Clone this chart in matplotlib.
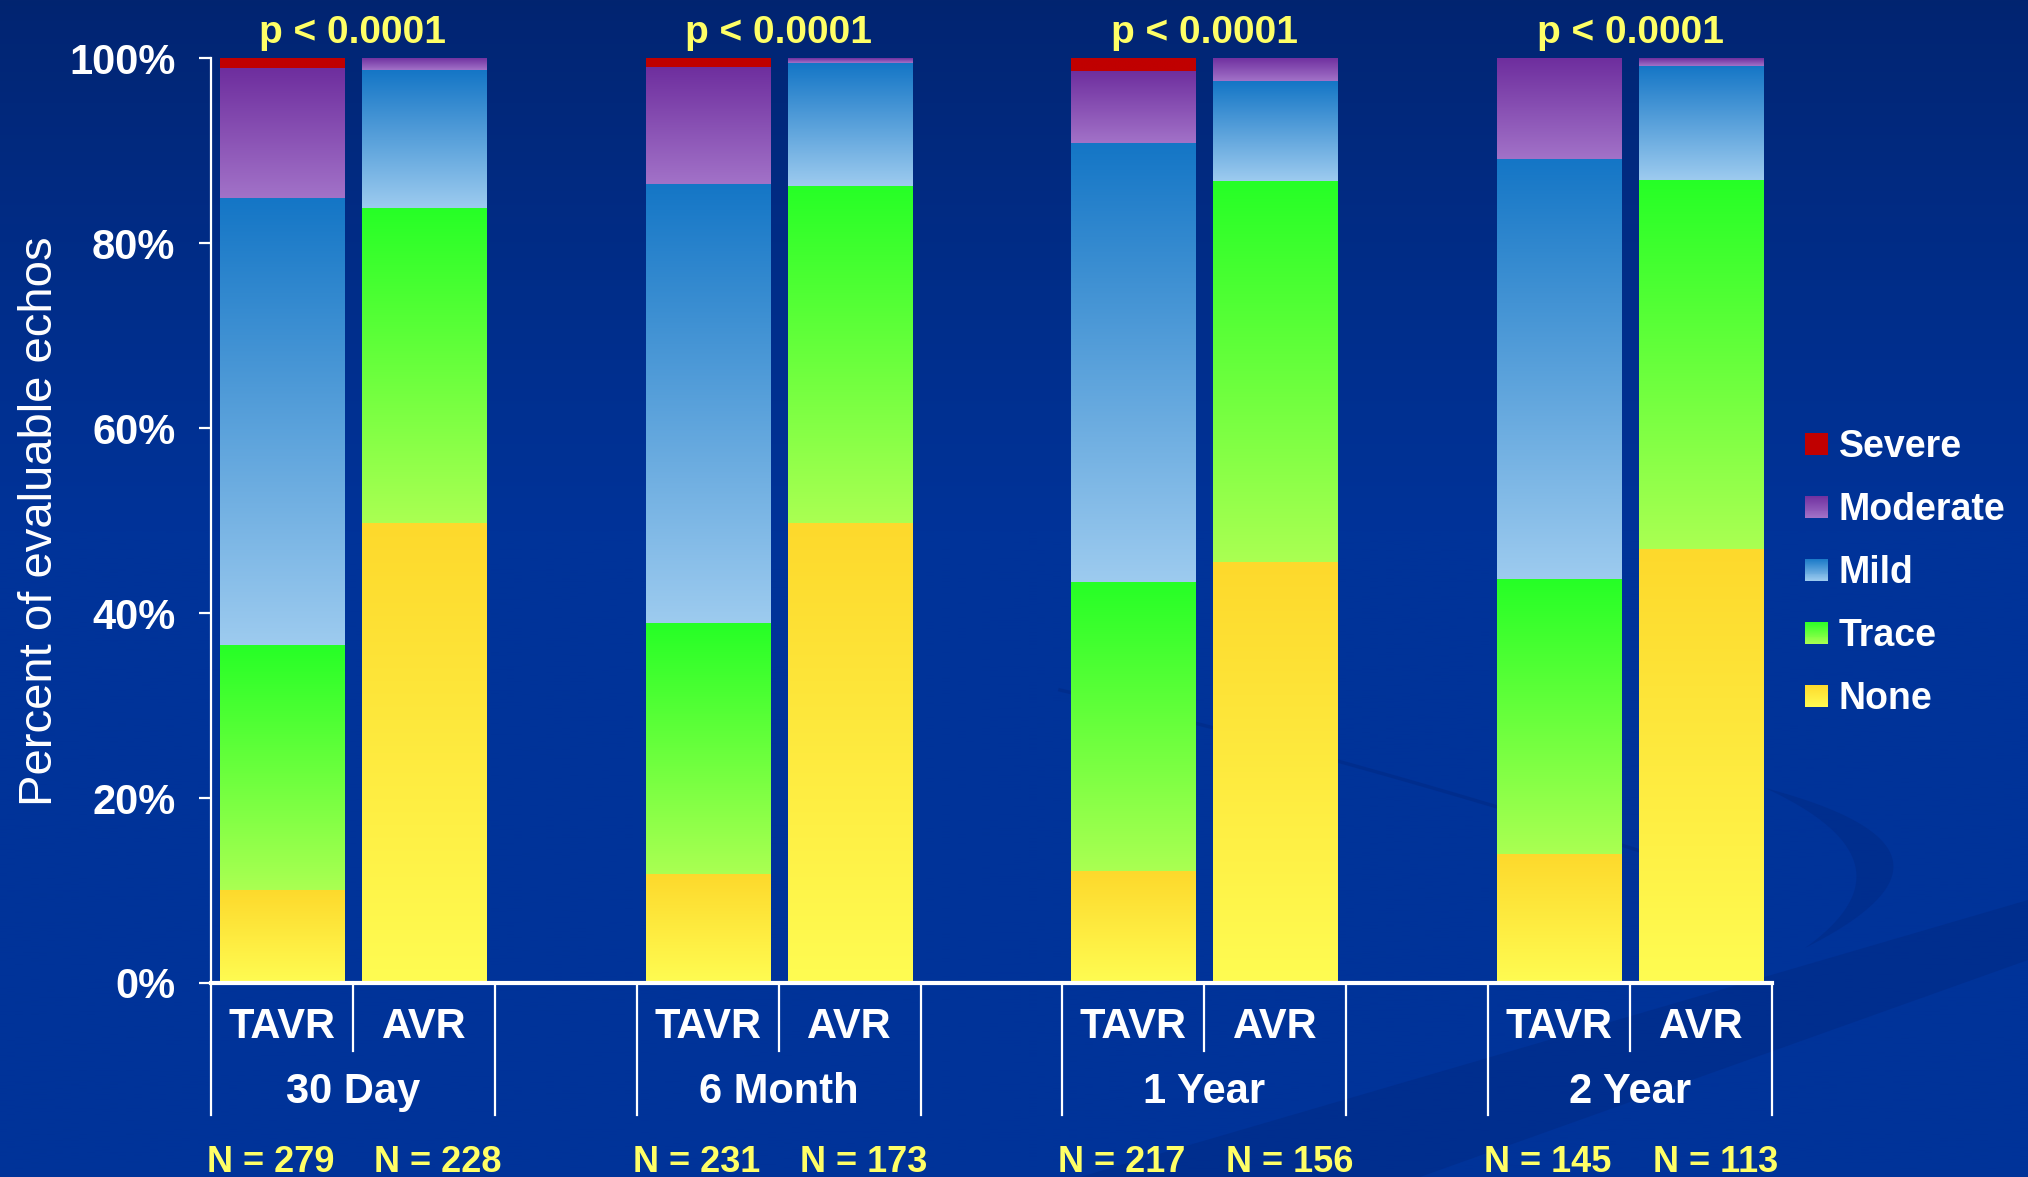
import numpy as np
import matplotlib
matplotlib.use("Agg")
import matplotlib.pyplot as plt
import matplotlib.transforms as mtransforms
from matplotlib.patches import Rectangle, Patch, Polygon
from matplotlib.legend_handler import HandlerBase
from matplotlib.colors import to_rgb

plt.rcParams["font.family"] = ["Liberation Sans", "DejaVu Sans"]

# ---- data -------------------------------------------------------------
periods = ["30 Day", "6 Month", "1 Year", "2 Year"]
arms = ["TAVR", "AVR"]
p_values = ["p < 0.0001", "p < 0.0001", "p < 0.0001", "p < 0.0001"]
n_tavr = [279, 231, 217, 145]
n_avr = [228, 173, 156, 113]

# percent of evaluable echos; bars ordered TAVR, AVR within each period
none_pct = [10.1, 49.7, 11.8, 49.7, 12.1, 45.5, 14.0, 46.9]
trace_pct = [26.5, 34.1, 27.1, 36.5, 31.3, 41.2, 29.7, 39.9]
mild_pct = [48.3, 14.9, 47.5, 13.3, 47.4, 10.8, 45.4, 12.4]
moderate_pct = [14.0, 1.3, 12.7, 0.5, 7.8, 2.5, 10.9, 0.8]
severe_pct = [1.1, 0.0, 0.9, 0.0, 1.4, 0.0, 0.0, 0.0]

y_ticks = [0, 20, 40, 60, 80, 100]
y_tick_labels = ["0%", "20%", "40%", "60%", "80%", "100%"]

# ---- styling ------------------------------------------------------------
WHITE = "white"
YELLOW = "#FFFF66"
# (top colour, bottom colour) of each segment's vertical gradient
grad = {
    "None": ("#FDD92C", "#FFFC52"),
    "Trace": ("#26FF26", "#AAFF52"),
    "Mild": ("#1476C6", "#9DCBEF"),
    "Moderate": ("#6E2E9E", "#A272C8"),
    "Severe": ("#C00000", "#C00000"),
}

W, H = 2028, 1177
fig = plt.figure(figsize=(W / 100, H / 100), dpi=100)
fig.patch.set_facecolor("#003399")

# slide background: dark navy at the top fading into royal blue
bg = fig.add_axes([0, 0, 1, 1], zorder=-10)
bg.set_axis_off()
t = np.linspace(0, 1, 400)
ramp = np.clip(t / 0.45, 0, 1) ** 0.8
c_top = np.array([2, 36, 112]) / 255
c_mid = np.array([0, 51, 153]) / 255
img = c_top[None, :] * (1 - ramp[:, None]) + c_mid[None, :] * ramp[:, None]
bg.imshow(img[:, None, :], extent=(0, W, H, 0), aspect="auto", origin="upper")


def bezier(p0, p1, p2, n=80):
    s = np.linspace(0, 1, n)[:, None]
    p0, p1, p2 = map(np.asarray, (p0, p1, p2))
    return (1 - s) ** 2 * p0 + 2 * (1 - s) * s * p1 + s ** 2 * p2


SWOOSH = "#002a86"
# broad diagonal band rising towards the right edge
bg.add_patch(Polygon([(1080, H), (W, 900), (W, 960), (1420, H)], closed=True,
                     facecolor=SWOOSH, alpha=0.55, edgecolor="none"))
# crescent on the right
outer = bezier((1765, 788), (2000, 850), (1805, 948))
inner = bezier((1805, 948), (1925, 862), (1765, 788))
bg.add_patch(Polygon(np.vstack([outer, inner]), closed=True,
                     facecolor=SWOOSH, alpha=0.55, edgecolor="none"))
# thin sweeping line
line = bezier((1060, 690), (1400, 770), (1760, 890))
bg.plot(line[:, 0], line[:, 1], color=SWOOSH, lw=2.5, alpha=0.6)
bg.set_xlim(0, W)
bg.set_ylim(H, 0)

# ---- main axes ----------------------------------------------------------
left_px, right_px, top_px, base_px = 211, 1772, 58.3, 983
ax = fig.add_axes([left_px / W, 1 - base_px / H,
                   (right_px - left_px) / W, (base_px - top_px) / H])
ax.patch.set_alpha(0)

x = np.array([3 * g + a for g in range(len(periods)) for a in range(len(arms))], dtype=float)
width = 0.875


def gradient(top, bottom, n=200):
    s = np.linspace(0, 1, n)[:, None]
    a, b = np.array(to_rgb(top)), np.array(to_rgb(bottom))
    return (a[None, :] * (1 - s) + b[None, :] * s)[:, None, :]


series = [("None", none_pct), ("Trace", trace_pct), ("Mild", mild_pct),
          ("Moderate", moderate_pct), ("Severe", severe_pct)]
bottom = np.zeros(len(x))
for name, vals in series:
    vals = np.asarray(vals, dtype=float)
    top_c, bot_c = grad[name]
    bars = ax.bar(x, vals, width, bottom=bottom, color="none", edgecolor="none", zorder=2)
    g_img = gradient(top_c, bot_c)
    for r in bars.patches:
        h = r.get_height()
        if h <= 0:
            continue
        x0, y0 = r.get_x(), r.get_y()
        ax.imshow(g_img, extent=(x0, x0 + r.get_width(), y0, y0 + h),
                  aspect="auto", origin="upper", interpolation="bilinear", zorder=2)
    bottom += vals

ax.set_xlim(-0.5, 10.5)
ax.set_ylim(0, 100)

for s in ("top", "right"):
    ax.spines[s].set_visible(False)
ax.spines["left"].set_color(WHITE)
ax.spines["left"].set_linewidth(1.6)
ax.spines["bottom"].set_color(WHITE)
ax.spines["bottom"].set_linewidth(3)
ax.spines["bottom"].set_zorder(5)

ax.set_yticks(y_ticks, y_tick_labels)
ax.tick_params(axis="y", colors=WHITE, length=8.6, width=1.6, pad=17, labelsize=30)
for lab in ax.get_yticklabels():
    lab.set_fontweight("bold")
ax.set_xticks([])

# category labels and separators below the axis
tr = mtransforms.blended_transform_factory(ax.transData, ax.transAxes)
for i, xi in enumerate(x):
    ax.text(xi, -0.0595, arms[i % 2], transform=tr, ha="center", va="baseline",
            fontsize=30, fontweight="bold", color=WHITE)
for g, period in enumerate(periods):
    c = 3 * g + 0.5
    ax.text(c, -0.1298, period, transform=tr, ha="center", va="baseline",
            fontsize=30, fontweight="bold", color=WHITE)
    ax.text(c, 1.0166, p_values[g], transform=tr, ha="center", va="baseline",
            fontsize=28, fontweight="bold", color=YELLOW)
    ax.text(3 * g - 0.08, -0.2044, f"N = {n_tavr[g]}", transform=tr, ha="center",
            va="baseline", fontsize=26, fontweight="bold", color=YELLOW, clip_on=False)
    ax.text(3 * g + 1.1, -0.2044, f"N = {n_avr[g]}", transform=tr, ha="center",
            va="baseline", fontsize=26, fontweight="bold", color=YELLOW, clip_on=False)
    for xl in (3 * g - 0.5, 3 * g + 1.5):
        ax.plot([xl, xl], [0, -0.143], transform=tr, color=WHITE, lw=1.6, clip_on=False)
    ax.plot([c, c], [0, -0.0735], transform=tr, color=WHITE, lw=1.6, clip_on=False)

# y-axis title
fig.text(40 / W, 1 - 521 / H, "Percent of evaluable echos", rotation=90,
         ha="center", va="center", fontsize=34, color=WHITE)


# ---- legend with gradient swatches ---------------------------------------
class GradientSquare(HandlerBase):
    def __init__(self, top, bottom, steps=24):
        super().__init__()
        self.top = np.array(to_rgb(top))
        self.bottom = np.array(to_rgb(bottom))
        self.steps = steps

    def create_artists(self, legend, orig_handle, xdescent, ydescent,
                       width, height, fontsize, trans):
        side = min(width, height)
        x0 = -xdescent + (width - side) / 2
        y0 = -ydescent + (height - side) / 2
        arts = []
        for i in range(self.steps):
            f = (i + 0.5) / self.steps
            col = self.top * (1 - f) + self.bottom * f
            yy = y0 + side * (1 - (i + 1) / self.steps)
            arts.append(Rectangle((x0, yy), side, side / self.steps * 1.05,
                                  facecolor=col, edgecolor="none", transform=trans))
        return arts


legend_order = ["Severe", "Moderate", "Mild", "Trace", "None"]
handles = [Patch(label=n) for n in legend_order]
hmap = {h: GradientSquare(*grad[h.get_label()]) for h in handles}
fig.legend(handles=handles, handler_map=hmap, loc="center left",
           bbox_to_anchor=(1805 / W, 1 - 573 / H), bbox_transform=fig.transFigure,
           frameon=False, borderpad=0, borderaxespad=0,
           handlelength=0.6, handleheight=0.62, handletextpad=0.3, labelspacing=0.72,
           prop={"weight": "bold", "size": 27}, labelcolor=WHITE)

fig.savefig("out.png", dpi=100, facecolor=fig.get_facecolor())
